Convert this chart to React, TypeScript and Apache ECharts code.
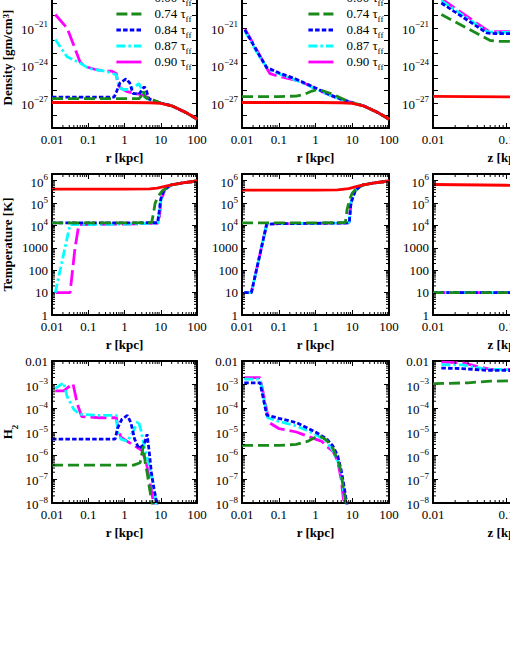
import React, { useEffect, useRef } from 'react';
import * as echarts from 'echarts';

type Pt = [number, number];

// ---------- labels ----------
const runLabels = ['0.00', '0.74', '0.84', '0.87', '0.90'];
const rTickLabels = ['0.01', '0.1', '1', '10', '100'];
const zTickLabels = ['0.01', '0.1', '1'];
const densityTickLabels = ['10^-27', '10^-24', '10^-21', '10^-18'];
const temperatureTickLabels = ['1', '10', '100', '1000', '10^4', '10^5', '10^6'];
const h2TickLabels = ['10^-8', '10^-7', '10^-6', '10^-5', '10^-4', '10^-3', '0.01'];

// ---------- density vs r (left column) ----------
const rhoA_000: Pt[] = [[0.01, 1.1e-27], [0.1, 1.1e-27], [1, 1.1e-27], [5, 1.05e-27], [10, 9.5e-28], [20, 6e-28], [30, 3.5e-28], [50, 1.7e-28], [70, 1e-28], [100, 5e-29]];
const rhoA_074: Pt[] = [[0.01, 2.2e-27], [2.5, 2.2e-27], [3, 4e-27], [3.3, 9e-27], [3.6, 3.5e-27], [4.2, 2.2e-27], [4.8, 3e-27], [6, 1.8e-27], [8, 1.3e-27], [10, 1e-27], [20, 6e-28], [30, 3.5e-28], [50, 1.7e-28], [100, 5e-29]];
const rhoA_084: Pt[] = [[0.01, 3e-27], [0.52, 3e-27], [0.6, 8e-27], [0.75, 4e-26], [1.1, 8.5e-26], [1.4, 4e-26], [1.7, 6e-27], [2.5, 5e-27], [3.5, 2e-26], [4, 1e-26], [4.7, 2.2e-27], [6, 1.5e-27], [10, 1e-27], [20, 6e-28], [30, 3.5e-28], [50, 1.7e-28], [100, 5e-29]];
const rhoA_087: Pt[] = [[0.0123, 1.2e-22], [0.026, 5e-24], [0.059, 1.6e-24], [0.1, 6e-25], [0.3, 3.5e-25], [0.6, 1.8e-25], [0.7, 2e-26], [0.9, 1.2e-26], [1.3, 1.2e-26], [2, 2.2e-26], [2.5, 3.5e-26], [3, 1.2e-26], [3.5, 3e-27], [5, 1.8e-27], [10, 1e-27], [20, 6e-28], [30, 3.5e-28], [50, 1.7e-28], [100, 5e-29]];
const rhoA_090: Pt[] = [[0.0123, 1.2e-20], [0.026, 1e-21], [0.04, 4e-23], [0.059, 2e-24], [0.08, 8.5e-25], [0.15, 5e-25], [0.3, 3.5e-25], [0.45, 3.5e-25], [0.6, 2.2e-25], [0.65, 3e-26], [0.8, 1.5e-26], [1.2, 8e-27], [2, 6e-27], [3.5, 4e-27], [6, 1.6e-27], [10, 1e-27], [20, 6e-28], [30, 3.5e-28], [50, 1.7e-28], [100, 5e-29]];

// ---------- density vs r (middle column) ----------
const rhoB_000: Pt[] = [[0.01, 1.1e-27], [0.1, 1.1e-27], [1, 1.1e-27], [5, 1.05e-27], [10, 9.5e-28], [20, 6e-28], [30, 3.5e-28], [50, 1.7e-28], [70, 1e-28], [100, 5e-29]];
const rhoB_074: Pt[] = [[0.01, 3.2e-27], [0.1, 3.2e-27], [0.3, 3.6e-27], [0.5, 5e-27], [0.8, 9e-27], [1.1, 1.15e-26], [1.5, 1e-26], [2.5, 6e-27], [4, 3.3e-27], [6, 1.9e-27], [8, 1.3e-27], [10, 1.05e-27], [20, 6e-28], [30, 3.5e-28], [50, 1.7e-28], [100, 5e-29]];
const rhoB_084: Pt[] = [[0.012, 7e-22], [0.02, 5e-23], [0.03, 6e-24], [0.047, 7e-25], [0.1, 2.6e-25], [0.3, 8e-26], [1, 1.6e-26], [2, 6e-27], [4, 2.5e-27], [8, 1.3e-27], [12, 9e-28], [20, 6e-28], [30, 3.5e-28], [50, 1.7e-28], [100, 5e-29]];
const rhoB_087: Pt[] = [[0.012, 6e-22], [0.02, 4e-23], [0.03, 5e-24], [0.05, 5.5e-25], [0.1, 2.2e-25], [0.3, 6.5e-26], [1, 1.4e-26], [2, 5.5e-27], [4, 2.3e-27], [8, 1.3e-27], [12, 9e-28], [20, 6e-28], [30, 3.5e-28], [50, 1.7e-28], [100, 5e-29]];
const rhoB_090: Pt[] = [[0.012, 8e-22], [0.02, 6e-23], [0.03, 7e-24], [0.047, 6e-25], [0.058, 2.2e-25], [0.1, 1.35e-25], [0.3, 6.3e-26], [0.6, 3e-26], [1, 1.4e-26], [2, 5.5e-27], [4, 2.3e-27], [8, 1.3e-27], [12, 9e-28], [20, 6e-28], [30, 3.5e-28], [50, 1.7e-28], [100, 5e-29]];

// ---------- density vs z (right column) ----------
const rhoC_000: Pt[] = [[0.01, 3.4e-27], [0.1, 3.1e-27], [1, 2.6e-27]];
const rhoC_074: Pt[] = [[0.013, 1.2e-20], [0.06, 1e-22], [0.08, 8.5e-23], [1, 8.5e-23]];
const rhoC_084: Pt[] = [[0.013, 1e-19], [0.054, 4e-22], [0.07, 3.5e-22], [1, 3.5e-22]];
const rhoC_087: Pt[] = [[0.013, 1.5e-19], [0.055, 5e-22], [0.07, 4.5e-22], [1, 4.5e-22]];
const rhoC_090: Pt[] = [[0.013, 2.2e-19], [0.057, 5.5e-22], [0.07, 5.2e-22], [1, 5.2e-22]];

// ---------- temperature ----------
const tA_000: Pt[] = [[0.01, 4.2e5], [1, 4.2e5], [5, 4.3e5], [8, 4.7e5], [12, 5.4e5], [20, 6.6e5], [40, 8e5], [70, 9e5], [100, 1e6]];
const tA_074: Pt[] = [[0.01, 1.3e4], [1, 1.3e4], [5.6, 1.35e4], [6.2, 3e4], [7, 1e5], [8.5, 2e5], [11, 3.5e5], [15, 5e5], [20, 6.6e5], [40, 8e5], [70, 9e5], [100, 1e6]];
const tA_084: Pt[] = [[0.01, 1.3e4], [1, 1.3e4], [8.2, 1.35e4], [9, 4e4], [10, 1.5e5], [12, 3.5e5], [15, 5e5], [20, 6.6e5], [40, 8e5], [70, 9e5], [100, 1e6]];
const tA_087: Pt[] = [[0.0123, 10], [0.0315, 1.1e4], [0.1, 1.1e4], [1, 1.15e4], [7, 1.25e4], [8.5, 1.3e4], [9.5, 8e4], [11, 2.5e5], [14, 4.5e5], [20, 6.6e5], [40, 8e5], [70, 9e5], [100, 1e6]];
const tA_090: Pt[] = [[0.0127, 10], [0.0315, 10], [0.043, 950], [0.055, 1.1e4], [1, 1.15e4], [8, 1.25e4], [9, 1.4e4], [10, 1.2e5], [13, 4e5], [20, 6.6e5], [40, 8e5], [70, 9e5], [100, 1e6]];

const tB_000: Pt[] = [[0.01, 3.8e5], [1, 3.8e5], [4, 3.9e5], [8, 4.4e5], [12, 5.3e5], [20, 6.6e5], [40, 8e5], [70, 9e5], [100, 1e6]];
const tB_074: Pt[] = [[0.01, 1.3e4], [1, 1.3e4], [6.5, 1.35e4], [7.2, 5e4], [8.5, 1.5e5], [10, 2.8e5], [13, 4.5e5], [20, 6.6e5], [40, 8e5], [70, 9e5], [100, 1e6]];
const tB_084: Pt[] = [[0.0115, 10], [0.018, 10], [0.047, 1.15e4], [0.1, 1.2e4], [1, 1.25e4], [7.5, 1.3e4], [8.3, 1.4e4], [9.2, 1e5], [12, 3.5e5], [15, 5e5], [20, 6.6e5], [40, 8e5], [70, 9e5], [100, 1e6]];
const tB_087: Pt[] = [[0.0115, 10], [0.018, 10], [0.047, 1.15e4], [0.1, 1.2e4], [1, 1.25e4], [7.5, 1.3e4], [8.3, 1.4e4], [9.2, 1e5], [12, 3.5e5], [15, 5e5], [20, 6.6e5], [40, 8e5], [70, 9e5], [100, 1e6]];
const tB_090: Pt[] = [[0.0115, 10], [0.018, 10], [0.047, 1.15e4], [0.1, 1.2e4], [1, 1.25e4], [7.5, 1.3e4], [8.3, 1.4e4], [9.2, 1e5], [12, 3.5e5], [15, 5e5], [20, 6.6e5], [40, 8e5], [70, 9e5], [100, 1e6]];

const tC_000: Pt[] = [[0.01, 6.8e5], [0.1, 6.3e5], [1, 5.6e5]];
const tC_074: Pt[] = [[0.01, 10], [1, 10]];
const tC_084: Pt[] = [[0.01, 10], [1, 10]];
const tC_087: Pt[] = [[0.01, 10], [1, 10]];
const tC_090: Pt[] = [[0.01, 10], [1, 10]];

// ---------- H2 fraction ----------
const hA_074: Pt[] = [[0.01, 4e-7], [1.8, 4e-7], [2.7, 5e-7], [3.3, 2.5e-6], [3.8, 4e-7], [4.2, 2e-7], [4.8, 5e-8], [5.5, 1.5e-8], [6, 7e-9]];
const hA_084: Pt[] = [[0.01, 5e-6], [0.55, 5e-6], [0.65, 1.5e-5], [0.85, 3.5e-5], [1.2, 5e-5], [1.5, 2.5e-5], [1.9, 5e-6], [2.5, 2e-6], [3.5, 3e-6], [4.2, 8e-6], [4.8, 1.5e-6], [5.5, 2e-7], [6.5, 4e-8], [8, 8e-9]];
const hA_087: Pt[] = [[0.0123, 7e-4], [0.021, 1.2e-3], [0.026, 3.2e-4], [0.04, 9e-5], [0.058, 5.6e-5], [0.2, 5e-5], [0.6, 5e-5], [0.65, 1e-5], [0.8, 5e-6], [1.2, 4e-6], [1.7, 1e-5], [2.4, 3e-5], [2.8, 1.3e-5], [3.5, 2.5e-6], [4.7, 4.5e-7], [6.3, 6e-8], [7.5, 8e-9]];
const hA_090: Pt[] = [[0.0123, 5.5e-4], [0.021, 5.5e-4], [0.038, 1.1e-3], [0.05, 1.5e-4], [0.066, 4.5e-5], [0.2, 4e-5], [0.6, 4e-5], [0.65, 1.5e-5], [0.8, 6e-6], [1.2, 4e-6], [2, 2.5e-6], [3, 1.7e-6], [4, 5e-7], [5, 8e-8], [6.5, 8e-9]];

const hB_074: Pt[] = [[0.01, 2.7e-6], [0.1, 2.7e-6], [0.3, 3e-6], [0.6, 4e-6], [1, 6e-6], [1.3, 7e-6], [2, 4.5e-6], [3, 2e-6], [4.5, 4e-7], [5.7, 5e-8], [6.9, 8e-9]];
const hB_084: Pt[] = [[0.0115, 1.2e-3], [0.031, 1.2e-3], [0.047, 5.2e-5], [0.1, 3.8e-5], [0.3, 2.5e-5], [1, 1e-5], [2, 5.2e-6], [3, 2.5e-6], [4, 1e-6], [5, 2.5e-7], [6, 5e-8], [7.2, 8e-9]];
const hB_087: Pt[] = [[0.0115, 1.7e-3], [0.031, 1.7e-3], [0.05, 4e-5], [0.1, 2.8e-5], [0.3, 1.8e-5], [1, 8e-6], [2, 4e-6], [3, 1.6e-6], [4.5, 4e-7], [5.5, 6e-8], [6.5, 8e-9]];
const hB_090: Pt[] = [[0.0115, 2e-3], [0.031, 2e-3], [0.055, 2.5e-5], [0.1, 1.4e-5], [0.3, 1e-5], [1, 5e-6], [1.5, 4e-6], [2, 2.5e-6], [3, 1.5e-6], [4, 6e-7], [5, 1e-7], [6, 8e-9]];

const hC_074: Pt[] = [[0.01, 1.1e-3], [0.03, 1.2e-3], [0.06, 1.4e-3], [0.11, 1.45e-3], [1, 1.5e-3]];
const hC_084: Pt[] = [[0.013, 5e-3], [0.025, 4.8e-3], [0.055, 4e-3], [1, 3.9e-3]];
const hC_087: Pt[] = [[0.013, 7e-3], [0.025, 6.8e-3], [0.055, 4.4e-3], [1, 4.3e-3]];
const hC_090: Pt[] = [[0.013, 8.9e-3], [0.025, 8.5e-3], [0.035, 6.5e-3], [0.06, 4.4e-3], [1, 4.4e-3]];

// ---------- styling / layout ----------
const FONT = 'Liberation Serif';
const colors = ['#ff0000', '#1a8a1a', '#0000ff', '#00ffff', '#ff00ff'];
const dashes: any[] = ['solid', [11, 5], [4.5, 2.2], [9, 3, 2.5, 3], [16, 5]];
const legendDashes: any[] = ['solid', [11, 4], [4.5, 2.2], [9, 3, 2.5, 3], 'solid'];
const LINE_W = 2.8;
const drawOrder = [4, 3, 2, 1, 0];
const colLeft = [50, 242, 433];
const colWidth = 147;
const rowBox = [{ top: 7, height: 141 }, { top: 194, height: 141 }, { top: 381, height: 142 }];

type YKind = 'rho' | 'T' | 'h2';
type XKind = 'r' | 'z';

// density is placed on a value axis holding log10(density) (log axes lose values this small)
const yCfg: Record<YKind, any> = {
  rho: { exponentAxis: true, min: -29, max: Math.log10(1.9e-18), labels: densityTickLabels, name: '{n|Density [gm/cm}{sp|3}{n|]}', minor: false },
  T: { exponentAxis: false, min: 1, max: 2e6, labels: temperatureTickLabels, name: '{n|Temperature [K]}', minor: true },
  h2: { exponentAxis: false, min: 1e-8, max: 1e-2, labels: h2TickLabels, name: '{n|H}{sb|2}', minor: true },
};
const xCfg: Record<XKind, any> = {
  r: { min: 0.01, max: 100, labels: rTickLabels, name: 'r [kpc]' },
  z: { min: 0.01, max: 1, labels: zTickLabels, name: 'z [kpc]' },
};

const panels: { row: number; col: number; x: XKind; y: YKind; data: (Pt[] | null)[] }[] = [
  { row: 0, col: 0, x: 'r', y: 'rho', data: [rhoA_000, rhoA_074, rhoA_084, rhoA_087, rhoA_090] },
  { row: 0, col: 1, x: 'r', y: 'rho', data: [rhoB_000, rhoB_074, rhoB_084, rhoB_087, rhoB_090] },
  { row: 0, col: 2, x: 'z', y: 'rho', data: [rhoC_000, rhoC_074, rhoC_084, rhoC_087, rhoC_090] },
  { row: 1, col: 0, x: 'r', y: 'T', data: [tA_000, tA_074, tA_084, tA_087, tA_090] },
  { row: 1, col: 1, x: 'r', y: 'T', data: [tB_000, tB_074, tB_084, tB_087, tB_090] },
  { row: 1, col: 2, x: 'z', y: 'T', data: [tC_000, tC_074, tC_084, tC_087, tC_090] },
  { row: 2, col: 0, x: 'r', y: 'h2', data: [null, hA_074, hA_084, hA_087, hA_090] },
  { row: 2, col: 1, x: 'r', y: 'h2', data: [null, hB_074, hB_084, hB_087, hB_090] },
  { row: 2, col: 2, x: 'z', y: 'h2', data: [null, hC_074, hC_084, hC_087, hC_090] },
];

function labelLog(l: string): number {
  if (l.includes('^')) return Number(l.split('^')[1]);
  return Math.log10(Number(l));
}
function toRich(l: string): string {
  if (l.includes('^')) return `{b|10}{s|${l.split('^')[1].replace('-', '\u2212')}}`;
  return `{p|${l}}`;
}
function findLabelLog(labels: string[], lv: number): string | null {
  for (const l of labels) if (Math.abs(labelLog(l) - lv) < 1e-6) return l;
  return null;
}
function minorValues(min: number, max: number): number[] {
  const out: number[] = [];
  const d0 = Math.floor(Math.log10(min));
  const d1 = Math.ceil(Math.log10(max));
  for (let d = d0; d < d1; d++) {
    for (let k = 2; k <= 9; k++) {
      const v = k * Math.pow(10, d);
      if (v > min && v < max) out.push(v);
    }
  }
  return out;
}

const labelRich = {
  b: { fontFamily: FONT, fontSize: 13, lineHeight: 16, verticalAlign: 'bottom', color: '#000' },
  s: { fontFamily: FONT, fontSize: 9, lineHeight: 9, verticalAlign: 'top', color: '#000' },
  p: { fontFamily: FONT, fontSize: 13, lineHeight: 10, color: '#000' },
};
const nameRich = {
  n: { fontFamily: FONT, fontSize: 13, fontWeight: 'bold', lineHeight: 18, verticalAlign: 'top', color: '#000' },
  sp: { fontFamily: FONT, fontSize: 9, fontWeight: 'bold', lineHeight: 9, verticalAlign: 'top', color: '#000' },
  sb: { fontFamily: FONT, fontSize: 9, fontWeight: 'bold', lineHeight: 9, padding: [9, 0, 0, 0], verticalAlign: 'top', color: '#000' },
};

function buildOption(): any {
  const grid: any[] = [];
  const xAxis: any[] = [];
  const yAxis: any[] = [];
  const series: any[] = [];
  const axisLine = { show: true, onZero: false, lineStyle: { color: '#000', width: 2 } };
  const axisTick = { show: true, inside: true, length: 5, lineStyle: { color: '#000', width: 1 } };

  panels.forEach((p, gi) => {
    grid.push({ left: colLeft[p.col], top: rowBox[p.row].top, width: colWidth, height: rowBox[p.row].height, show: false });
    const xc = xCfg[p.x];
    const yc = yCfg[p.y];
    const xBase = { type: 'log', logBase: 10, gridIndex: gi, min: xc.min, max: xc.max, interval: 1, axisLine, axisTick, splitLine: { show: false }, minorTick: { show: false }, minorSplitLine: { show: false } };
    xAxis.push({
      ...xBase, position: 'bottom', name: xc.name, nameLocation: 'middle', nameGap: 22,
      nameTextStyle: { fontFamily: FONT, fontSize: 13, fontWeight: 'bold', color: '#000', lineHeight: 14 },
      axisLabel: {
        show: true, margin: 5, fontFamily: FONT, fontSize: 13, lineHeight: 12, color: '#000',
        formatter: (v: number) => findLabelLog(xc.labels, Math.log10(v)) ?? '',
      },
    });
    xAxis.push({ ...xBase, position: 'top', axisLabel: { show: false } });
    const yBase = yc.exponentAxis
      ? { type: 'value', gridIndex: gi, min: yc.min, max: yc.max, interval: 1, axisLine, axisTick, splitLine: { show: false }, minorTick: { show: false }, minorSplitLine: { show: false } }
      : { type: 'log', logBase: 10, gridIndex: gi, min: yc.min, max: yc.max, interval: 1, axisLine, axisTick, splitLine: { show: false }, minorTick: { show: false }, minorSplitLine: { show: false } };
    yAxis.push({
      ...yBase, position: 'left',
      name: p.col === 0 ? yc.name : '', nameLocation: 'middle', nameGap: 33,
      nameTextStyle: { fontFamily: FONT, fontSize: 13, fontWeight: 'bold', color: '#000', rich: nameRich },
      axisLabel: {
        show: true, margin: 4, color: '#000', fontFamily: FONT, fontSize: 13, rich: labelRich,
        formatter: (v: number) => {
          const l = findLabelLog(yc.labels, yc.exponentAxis ? v : Math.log10(v));
          return l ? toRich(l) : '';
        },
      },
    });
    yAxis.push({ ...yBase, position: 'right', axisLabel: { show: false } });

    drawOrder.forEach((idx) => {
      const d = p.data[idx];
      if (!d) return;
      series.push({
        type: 'line', name: runLabels[idx], xAxisIndex: 2 * gi, yAxisIndex: 2 * gi,
        data: yc.exponentAxis ? d.map(([x, y]) => [x, Math.log10(y)]) : d,
        symbol: 'none', showSymbol: false, clip: true, silent: true,
        lineStyle: { color: colors[idx], width: LINE_W, type: dashes[idx] },
        itemStyle: { color: colors[idx] },
        emphasis: { disabled: true },
        z: 3,
      });
    });

    // minor ticks (x: bottom/top; y: left/right), placed through the axis scales
    const tickStyle = { stroke: '#000', lineWidth: 1 };
    const yAnchor = yc.min;
    series.push({
      type: 'custom', xAxisIndex: 2 * gi, yAxisIndex: 2 * gi, silent: true, clip: false, z: 4,
      data: minorValues(xc.min, xc.max).map((v) => [v, yAnchor]),
      renderItem: (params: any, api: any) => {
        const cs = params.coordSys;
        const pt = api.coord([api.value(0), api.value(1)]);
        const x = pt[0];
        const yb = cs.y + cs.height;
        const yt = cs.y;
        return {
          type: 'group', children: [
            { type: 'line', shape: { x1: x, y1: yb, x2: x, y2: yb - 3 }, style: tickStyle },
            { type: 'line', shape: { x1: x, y1: yt, x2: x, y2: yt + 3 }, style: tickStyle },
          ],
        };
      },
    });
    if (yc.minor) {
      series.push({
        type: 'custom', xAxisIndex: 2 * gi, yAxisIndex: 2 * gi, silent: true, clip: false, z: 4,
        data: minorValues(yc.min, yc.max).map((v) => [xc.min, v]),
        renderItem: (params: any, api: any) => {
          const cs = params.coordSys;
          const pt = api.coord([api.value(0), api.value(1)]);
          const y = pt[1];
          const xl = cs.x;
          const xr = cs.x + cs.width;
          return {
            type: 'group', children: [
              { type: 'line', shape: { x1: xl, y1: y, x2: xl + 3, y2: y }, style: tickStyle },
              { type: 'line', shape: { x1: xr, y1: y, x2: xr - 3, y2: y }, style: tickStyle },
            ],
          };
        },
      });
    }
  });

  const legend = [0, 1].map((c) => ({
    data: runLabels.map((name, i) => ({
      name,
      lineStyle: { color: colors[i], width: LINE_W, type: legendDashes[i] },
    })),
    orient: 'vertical', left: colLeft[c] + 65, top: 11, padding: 0,
    itemWidth: 25, itemHeight: 2, itemGap: 0, selectedMode: false,
    itemStyle: { opacity: 0 },
    formatter: (name: string) => `{a|${name} \u03c4}{f|ff}`,
    textStyle: {
      fontFamily: FONT, fontSize: 13, color: '#000',
      rich: {
        a: { fontFamily: FONT, fontSize: 13, lineHeight: 14, verticalAlign: 'top', padding: [0, 0, 0, 8], color: '#000' },
        f: { fontFamily: FONT, fontSize: 9, lineHeight: 7, padding: [7, 0, 0, 0], verticalAlign: 'top', color: '#000' },
      },
    },
  }));

  return { animation: false, backgroundColor: '#fff', grid, xAxis, yAxis, series, legend };
}

export default function App() {
  const ref = useRef<HTMLDivElement>(null);
  useEffect(() => {
    const chart = echarts.init(ref.current!, null, { renderer: 'svg' });
    chart.setOption(buildOption());
    return () => chart.dispose();
  }, []);
  return (
    <div style={{ position: 'fixed', left: 0, top: 0, width: 510, height: 660, overflow: 'hidden', background: '#fff' }}>
      <div ref={ref} style={{ position: 'absolute', left: 0, top: -20, width: 600, height: 690 }} />
    </div>
  );
}
